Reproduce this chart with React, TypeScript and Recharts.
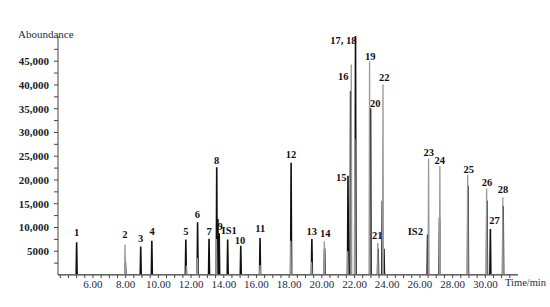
import { Line, LineChart, Scatter, XAxis, YAxis } from 'recharts';

// black trace: retention time (min) and abundance
const blackTimes = [5.0, 7.98, 8.92, 9.6, 11.68, 12.4, 13.1, 13.57, 13.64, 13.72, 14.24, 15.04, 16.22, 18.12, 19.39, 20.17, 21.6, 21.76, 22.06, 22.98, 23.44, 23.7, 23.8, 26.47, 27.2, 28.94, 30.1, 30.31, 31.09];
const blackHeights = [6900, 2800, 6000, 7200, 7450, 11100, 7650, 22700, 11800, 8800, 7450, 6150, 7800, 23600, 7600, 5600, 20900, 38700, 50300, 35100, 5500, 15600, 5500, 8500, 12100, 18800, 15700, 9700, 14500];

// grey trace
const greyTimes = [7.96, 11.72, 12.38, 13.55, 16.22, 18.1, 19.37, 20.15, 21.58, 21.8, 22.02, 22.92, 23.42, 23.74, 26.53, 27.22, 28.92, 30.08, 31.07];
const greyHeights = [6400, 2000, 3600, 7600, 2100, 7200, 2800, 7100, 5000, 44300, 28700, 45000, 6750, 40100, 24500, 22900, 21100, 18200, 16300];

// peak labels
const labelTexts = ['1', '2', '3', '4', '5', '6', '7', '8', '9', 'IS1', '10', '11', '12', '13', '14', '15', '16', '17, 18', '19', '20', '21', '22', 'IS2', '23', '24', '25', '26', '27', '28'];
const labelTimes = [5.0, 7.95, 8.92, 9.62, 11.68, 12.39, 13.1, 13.57, 13.78, 14.33, 15.0, 16.23, 18.12, 19.39, 20.21, 21.19, 21.31, 21.31, 22.96, 23.27, 23.39, 23.82, 25.72, 26.54, 27.22, 28.98, 30.11, 30.56, 31.09];
const labelAbund = [8840, 8420, 7580, 9050, 9050, 12740, 9260, 24100, 10310, 9470, 7260, 9790, 25260, 9160, 8630, 20420, 41680, 49260, 45890, 36000, 8210, 41470, 9050, 25790, 24100, 22100, 19510, 11430, 18040];

const xLabelTicks = [6, 8, 10, 12, 14, 16, 18, 20, 22, 24, 26, 28, 30];
const yLabelTicks = [5000, 10000, 15000, 20000, 25000, 30000, 35000, 40000, 45000];

const X_MIN = 3.86;
const X_MAX = 32.0;
const Y_MAX = 50300;

function buildTrace(times: number[], heights: number[], w: number) {
  const pts: { t: number; v: number }[] = [{ t: X_MIN, v: 0 }];
  times.forEach((t, i) => {
    pts.push({ t: t - w, v: 0 }, { t, v: heights[i] }, { t: t + w, v: 0 });
  });
  pts.push({ t: X_MAX, v: 0 });
  return pts;
}

const blackData = buildTrace(blackTimes, blackHeights, 0.03);
const greyData = buildTrace(greyTimes, greyHeights, 0.03);
const labelData = labelTexts.map((text, i) => ({ t: labelTimes[i], v: labelAbund[i], text }));

const xTicks: number[] = [];
for (let t = 4; t <= 31.5; t += 0.5) xTicks.push(t);
const yTicks: number[] = [];
for (let v = 2500; v <= 47500; v += 2500) yTicks.push(v);

const serif = '"Liberation Serif", "Times New Roman", serif';

function PeakLabel(props: any) {
  const { cx, cy, payload } = props;
  return (
    <text x={cx} y={cy} textAnchor="middle" dominantBaseline="central" fontFamily={serif} fontWeight="bold" fontSize={10.5} fill="#111">
      {payload.text}
    </text>
  );
}

export default function App() {
  return (
    <div style={{ position: 'absolute', left: 0, top: 0, width: 550, height: 307, background: '#fff' }}>
      <LineChart width={550} height={307} margin={{ top: 36, right: 32, bottom: 10, left: 0 }}>
        <XAxis
          type="number"
          dataKey="t"
          domain={[X_MIN, X_MAX]}
          ticks={xTicks}
          interval={0}
          allowDataOverflow
          height={22}
          stroke="#444"
          tickSize={3}
          tick={{ fill: '#1e2a44', fontSize: 11, fontFamily: serif }}
          tickFormatter={(v: number) => (xLabelTicks.includes(v) ? v.toFixed(2) : '')}
        />
        <YAxis
          type="number"
          dataKey="v"
          domain={[0, Y_MAX]}
          ticks={yTicks}
          interval={0}
          allowDataOverflow
          width={58}
          stroke="#444"
          tickSize={4}
          tickMargin={5}
          tick={{ fill: '#222', fontSize: 11, fontFamily: serif, fontWeight: 'bold' }}
          tickFormatter={(v: number) =>
            yLabelTicks.includes(v) ? (v === 5000 ? '5000' : v.toLocaleString('en-US')) : ''
          }
        />
        <Line data={blackData} dataKey="v" type="linear" stroke="#111" strokeWidth={1.6} dot={false} isAnimationActive={false} />
        <Line data={greyData} dataKey="v" type="linear" stroke="#999" strokeWidth={1.3} dot={false} isAnimationActive={false} />
        <Scatter data={labelData} dataKey="v" shape={<PeakLabel />} isAnimationActive={false} />
      </LineChart>
      <div style={{ position: 'absolute', left: 18, top: 28, fontFamily: serif, fontSize: 11, color: '#1e2a44' }}>Aboundance</div>
      <div style={{ position: 'absolute', left: 505, top: 277, fontFamily: serif, fontSize: 10.5, color: '#1e2a44' }}>Time/min</div>
    </div>
  );
}
